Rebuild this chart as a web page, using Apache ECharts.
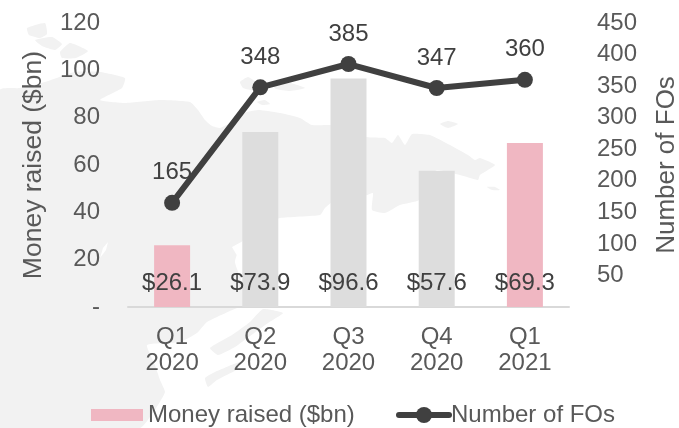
<!DOCTYPE html>
<html><head><meta charset="utf-8">
<style>html,body{margin:0;padding:0;background:#fff}#c{width:679px;height:428px}</style>
<script src="https://cdn.jsdelivr.net/npm/echarts@6/dist/echarts.min.js"></script>
</head><body><div id="c"></div>
<script>
const categories = ['Q1\n2020','Q2\n2020','Q3\n2020','Q4\n2020','Q1\n2021'];
const moneyRaised = [26.1,73.9,96.6,57.6,69.3];
const numberOfFOs = [165,348,385,347,360];
const PINK='#F0B7C2', GREY='#DDDDDD', DARK='#404040', TICK='#595959', LAND='#F2F2F2';
const FONT='"Liberation Sans", Arial, sans-serif';

// decorative faint world-map backdrop (not data)
const landShapes = [
 [[0,90],[20,88],[45,82],[75,72],[100,72],[125,78],[122,88],[100,100],[125,103],[160,100],[190,102],[198,110],[205,120],[212,126],[220,128],[228,124],[240,114],[258,110],[280,113],[300,118],[312,125],[345,125],[367,137],[385,138],[392,143],[398,135],[405,145],[412,134],[430,135],[450,145],[468,155],[475,160],[480,158],[495,165],[480,175],[478,180],[460,175],[437,170],[425,180],[419,200],[400,205],[385,213],[372,210],[373,193],[367,195],[345,200],[335,200],[325,208],[320,215],[280,218],[258,225],[243,240],[235,262],[243,285],[243,307],[237,308],[207,322],[197,333],[180,342],[147,345],[155,365],[160,380],[165,392],[158,405],[140,428],[0,428]],
 [[27,28],[45,23],[47,34],[40,38],[29,35]],
 [[35,40],[52,37],[62,44],[55,50],[42,46]],
 [[60,52],[70,43],[88,51],[76,58],[62,58]],
 [[240,82],[248,77],[258,84],[252,90],[243,88]],
 [[272,84],[290,83],[305,88],[290,91],[276,89]],
 [[257,102],[265,100],[270,104],[262,105]],
 [[440,124],[448,121],[458,124],[448,128]],
 [[487,187],[495,187],[500,190],[492,190]],
 [[263,309],[283,313],[268,323],[250,336],[235,347],[218,355],[210,348],[232,335],[250,322]],
 [[205,378],[215,372],[240,362],[236,370],[217,380],[208,387]]
];
const seaShapes = [
 [[108,242],[106,250],[100,258],[103,248]],
 [[243,241],[232,247],[236,254],[243,262]]
];
const backdrop = [];
landShapes.forEach(p=>backdrop.push({type:'polygon',silent:true,z:-10,shape:{points:p,smooth:0.15},style:{fill:LAND}}));
seaShapes.forEach(p=>backdrop.push({type:'polygon',silent:true,z:-9,shape:{points:p},style:{fill:'#fff'}}));

const chart = echarts.init(document.getElementById('c'),null,{renderer:'canvas'});
chart.setOption({
 animation:false,
 backgroundColor:'#fff',
 textStyle:{fontFamily:FONT},
 graphic:backdrop,
 grid:{left:128,right:110,top:23,bottom:121,outerBoundsMode:'none'},
 legend:[
  {left:86,top:398,icon:'rect',itemWidth:52,itemHeight:12,itemGap:0,
   textStyle:{fontSize:24,color:TICK,fontFamily:FONT},
   data:[{name:'Money raised ($bn)',itemStyle:{color:PINK}}]},
  {left:391,top:398,itemWidth:50,itemHeight:20,itemGap:0,
   textStyle:{fontSize:24,color:TICK,fontFamily:FONT,padding:[0,0,0,-3]},
   lineStyle:{width:6,cap:'round'},
   data:[{name:'Number of FOs'}]}
 ],
 xAxis:{type:'category',data:categories,
  axisLine:{lineStyle:{color:'#D9D9D9',width:2}},axisTick:{show:false},
  axisLabel:{fontSize:24,color:TICK,lineHeight:26,margin:17,fontFamily:FONT,interval:0}},
 yAxis:[
  {type:'value',min:0,max:120,interval:20,name:'Money raised ($bn)',nameLocation:'middle',nameGap:81,
   nameTextStyle:{fontSize:26.5,color:TICK,fontFamily:FONT},
   axisLine:{show:false},axisTick:{show:false},splitLine:{show:false},
   axisLabel:{fontSize:24,color:TICK,margin:28,fontFamily:FONT,formatter:v=>v===0?'-':String(v)}},
  {type:'value',min:0,max:450,interval:50,name:'Number of FOs',nameLocation:'middle',nameGap:85,
   nameTextStyle:{fontSize:26,color:TICK,fontFamily:FONT},
   axisLine:{show:false},axisTick:{show:false},splitLine:{show:false},
   axisLabel:{fontSize:24,color:TICK,margin:28,fontFamily:FONT,formatter:v=>v===0?'':String(v)}}
 ],
 series:[
  {name:'Money raised ($bn)',type:'bar',yAxisIndex:0,barWidth:36,
   itemStyle:{color:p=>(p.dataIndex===0||p.dataIndex===4)?PINK:GREY},
   data:moneyRaised,
   label:{show:true,position:'insideBottom',distance:12,fontSize:24,color:DARK,fontFamily:FONT,
    formatter:p=>'$'+p.value.toFixed(1)}},
  {name:'Number of FOs',type:'line',yAxisIndex:1,data:numberOfFOs,
   symbol:'circle',symbolSize:16,lineStyle:{color:DARK,width:6},itemStyle:{color:DARK},
   label:{show:true,position:'top',distance:10,fontSize:24,color:DARK,fontFamily:FONT}}
 ]
});
</script></body></html>
